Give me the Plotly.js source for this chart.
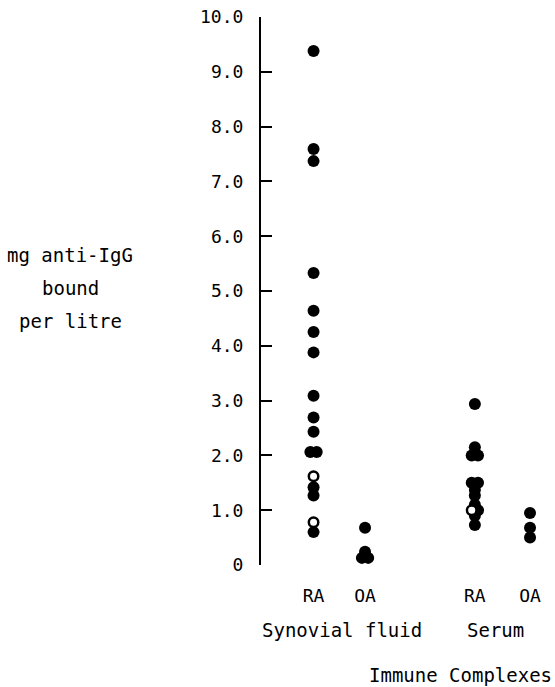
<!DOCTYPE html>
<html>
<head>
<meta charset="utf-8">
<script src="https://cdn.plot.ly/plotly-3.0.1.min.js"></script>
<style>html,body{margin:0;padding:0;background:#fff;}#chart{width:555px;height:687px;}</style>
</head>
<body>
<div id="chart"></div>
<script>
// ---- data ----
var groups = ["RA", "OA", "RA", "OA"];
var groupPos = [1, 1.98, 4.07, 5.12];
var sampleTypes = ["Synovial fluid", "Serum"];
// filled circles
var sfRA = [9.38, 7.59, 7.37, 5.33, 4.64, 4.25, 3.88, 3.09, 2.69, 2.43, 2.06, 2.06, 1.42, 1.27, 0.60];
var sfOA = [0.68, 0.24, 0.13, 0.13];
var seRA = [2.94, 2.15, 2.00, 2.00, 1.50, 1.50, 1.37, 1.27, 1.10, 1.00, 0.90, 0.73];
var seOA = [0.95, 0.68, 0.50];
// open circles
var sfRAopen = [1.62, 0.78];
var seRAopen = [1.00];
var yTicks = [0, 1, 2, 3, 4, 5, 6, 7, 8, 9, 10];
var yTickText = ["0", "1.0", "2.0", "3.0", "4.0", "5.0", "6.0", "7.0", "8.0", "9.0", "10.0"];
var yTitleLines = ["mg anti-IgG", "bound", "per litre"];
var xTitle = "Immune Complexes";

// ---- layout helpers ----
var SPREAD = 0.12; // horizontal spread for equal values (x units)
function placeGroup(center, filled, open) {
  var pts = [];
  open.forEach(function (v) { pts.push({v: v, open: true}); });
  filled.forEach(function (v) { pts.push({v: v, open: false}); });
  var byVal = {};
  pts.forEach(function (p) { var k = p.v.toFixed(2); (byVal[k] = byVal[k] || []).push(p); });
  Object.keys(byVal).forEach(function (k) {
    var arr = byVal[k], n = arr.length;
    arr.forEach(function (p, i) { p.x = center + (i - (n - 1) / 2) * SPREAD; });
  });
  return pts;
}
var allPts = []
  .concat(placeGroup(groupPos[0], sfRA, sfRAopen))
  .concat(placeGroup(groupPos[1], sfOA, []))
  .concat(placeGroup(groupPos[2], seRA, seRAopen))
  .concat(placeGroup(groupPos[3], seOA, []));
var filledPts = allPts.filter(function (p) { return !p.open; });
var openPts = allPts.filter(function (p) { return p.open; });

var font = "DejaVu Sans Mono, monospace";
var traces = [
  {type: "scatter", mode: "markers", x: filledPts.map(function (p) { return p.x; }), y: filledPts.map(function (p) { return p.v; }),
   marker: {color: "#000", size: 12, line: {width: 0}}, hoverinfo: "y", showlegend: false, cliponaxis: false},
  {type: "scatter", mode: "markers", x: openPts.map(function (p) { return p.x; }), y: openPts.map(function (p) { return p.v; }),
   marker: {color: "#fff", size: 9.5, line: {width: 2.5, color: "#000"}}, hoverinfo: "y", showlegend: false, cliponaxis: false}
];

var annotations = [];
yTitleLines.forEach(function (t, i) {
  annotations.push({text: t, xref: "paper", yref: "paper", x: -0.66, y: 0.5657 - i * 0.0602,
    showarrow: false, xanchor: "center", yanchor: "middle", font: {family: font, size: 19, color: "#000"}});
});
annotations.push({text: sampleTypes[0], xref: "x", yref: "paper", x: 1.54, y: -0.119, showarrow: false,
  xanchor: "center", yanchor: "middle", font: {family: font, size: 19, color: "#000"}});
annotations.push({text: sampleTypes[1], xref: "x", yref: "paper", x: 4.47, y: -0.119, showarrow: false,
  xanchor: "center", yanchor: "middle", font: {family: font, size: 19, color: "#000"}});
annotations.push({text: xTitle, xref: "x", yref: "paper", x: 3.79, y: -0.2007, showarrow: false,
  xanchor: "center", yanchor: "middle", font: {family: font, size: 19, color: "#000"}});

var layout = {
  width: 555, height: 687,
  margin: {l: 261, r: 5, t: 17, b: 122, pad: 0},
  paper_bgcolor: "#fff", plot_bgcolor: "#fff",
  showlegend: false,
  font: {family: font, size: 18, color: "#000"},
  xaxis: {range: [0, 5.5], showgrid: false, zeroline: false, showline: false,
    tickmode: "array", tickvals: groupPos, ticktext: groups, ticks: "outside", ticklen: 14,
    tickcolor: "rgba(0,0,0,0)", tickfont: {family: font, size: 18, color: "#000"}},
  yaxis: {range: [0, 10], showgrid: false, zeroline: false, showline: true, linecolor: "#000", linewidth: 2,
    tickmode: "array", tickvals: yTicks, ticktext: yTickText, ticks: "inside", ticklen: 11, tickwidth: 2,
    tickcolor: "#000", ticklabelstandoff: 12, tickfont: {family: font, size: 18, color: "#000"}},
  annotations: annotations
};
Plotly.newPlot("chart", traces, layout, {displayModeBar: false, staticPlot: true});
</script>
</body>
</html>
